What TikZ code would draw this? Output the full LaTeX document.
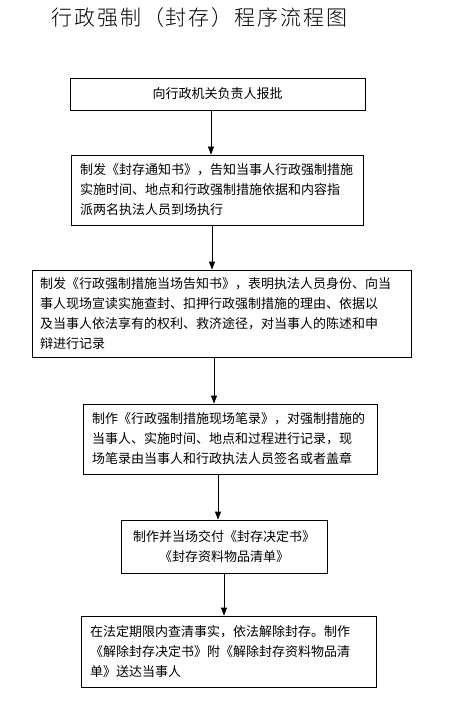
\documentclass[tikz,border=0pt]{standalone}
\usepackage{fontspec}
\newfontfamily\cjk{Noto Sans CJK SC}
\newfontfamily\cjktitle[LetterSpace=9]{Noto Sans CJK SC Light}
\usetikzlibrary{arrows.meta}
\begin{document}
\begin{tikzpicture}[x=1pt,y=-1pt,
  box/.style={draw,line width=0.8pt,inner sep=0pt,text width=#1,font=\cjk\fontsize{13}{20}\selectfont},
  arr/.style={-{Triangle[length=8pt,width=6pt]},line width=0.8pt}]
\useasboundingbox (0,0) rectangle (455,708);
\node[font=\cjktitle\fontsize{21}{24}\selectfont,anchor=west] (title) at (48,18) {行政强制（封存）程序流程图};
\node[box=295pt,minimum height=32pt,align=center] (b1) at (217.5,94) {向行政机关负责人报批};
\node[box=292pt,minimum height=70pt,align=left] (b2) at (217,190) {\hspace*{9pt}制发《封存通知书》，告知当事人行政强制措施\\\hspace*{9pt}实施时间、地点和行政强制措施依据和内容指\\\hspace*{9pt}派两名执法人员到场执行};
\node[box=379pt,minimum height=87pt,align=left] (b3) at (221.5,313.5) {\hspace*{8pt}制发《行政强制措施当场告知书》，表明执法人员身份、向当\\\hspace*{8pt}事人现场宣读实施查封、扣押行政强制措施的理由、依据以\\\hspace*{8pt}及当事人依法享有的权利、救济途径，对当事人的陈述和申\\\hspace*{8pt}辩进行记录};
\node[box=294pt,minimum height=70pt,align=left] (b4) at (230,439) {\hspace*{9pt}制作《行政强制措施现场笔录》，对强制措施的\\\hspace*{9pt}当事人、实施时间、地点和过程进行记录，现\\\hspace*{9pt}场笔录由当事人和行政执法人员签名或者盖章};
\node[box=206pt,minimum height=53pt,align=center] (b5) at (224,546.5) {制作并当场交付《封存决定书》\\《封存资料物品清单》};
\node[box=295pt,minimum height=71pt,align=left] (b6) at (228.5,651.5) {\hspace*{9pt}在法定期限内查清事实，依法解除封存。制作\\\hspace*{9pt}《解除封存决定书》附《解除封存资料物品清\\\hspace*{9pt}单》送达当事人};
\draw[arr] ([xshift=-6.5pt]b1.south) -- ([xshift=-6pt]b2.north);
\draw[arr] ([xshift=-5pt]b2.south) -- ([xshift=-9.5pt]b3.north);
\draw[arr] ([xshift=-7.5pt]b3.south) -- ([xshift=-16pt]b4.north);
\draw[arr] ([xshift=-12pt]b4.south) -- ([xshift=-6pt]b5.north);
\draw[arr] (b5.south) -- ([xshift=-4.5pt]b6.north);
\end{tikzpicture}
\end{document}
